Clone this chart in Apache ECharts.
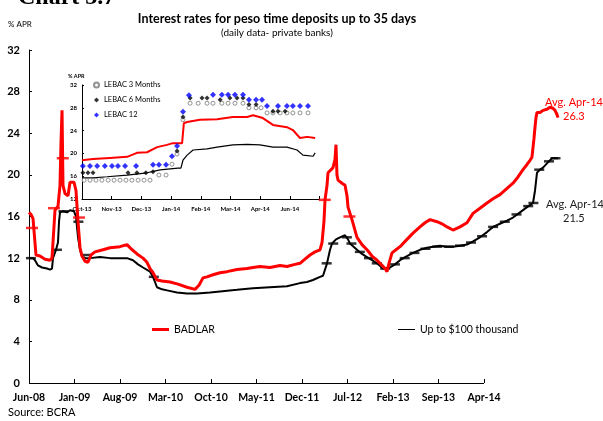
<!DOCTYPE html>
<html>
<head>
<meta charset="utf-8">
<script src="https://cdn.jsdelivr.net/npm/echarts@6/dist/echarts.min.js"></script>
<style>
  html, body { margin: 0; padding: 0; background: #fff; }
  #chart { width: 603px; height: 421px; }
</style>
</head>
<body>
<div id="chart"></div>
<script>
// x = months counted from Jun-08 on the axis scale (a labelled tick every 7)
const xLabels = ['Jun-08', 'Jan-09', 'Aug-09', 'Mar-10', 'Oct-10', 'May-11', 'Dec-11', 'Jul-12', 'Feb-13', 'Sep-13', 'Apr-14'];
const xTicks = [0, 7, 14, 21, 28, 35, 42, 49, 56, 63, 70];

const badlar = [
  [0, 16.4], [0.31, 16.2], [0.62, 15.8], [0.92, 13.5], [1.08, 12.3], [1.69, 12.2], [2.46, 11.9], [3.23, 11.8],
  [3.54, 12.0], [3.69, 13.5], [4.0, 16.6], [4.46, 17.0], [4.77, 19.0], [4.92, 23.0], [5.08, 26.2], [5.23, 19.0],
  [5.54, 18.2], [6.0, 18.0], [6.31, 19.3], [6.92, 19.3], [7.23, 18.5], [7.54, 15.5], [7.85, 13.0], [8.15, 12.2],
  [8.62, 11.7], [9.08, 11.6], [9.54, 12.3], [10.15, 12.6], [11.38, 12.8], [12.46, 13.0], [14.0, 13.1], [15.08, 13.3],
  [15.69, 12.9], [16.62, 12.4], [17.54, 12.0], [18.15, 11.6], [18.62, 11.0], [19.08, 10.6], [19.69, 9.9], [20.46, 9.8],
  [21.69, 9.7], [22.92, 9.5], [24.31, 9.2], [25.54, 9.0], [26.15, 9.4], [26.77, 10.1], [27.38, 10.2], [28.31, 10.4],
  [29.38, 10.6], [30.46, 10.7], [32.0, 10.9], [33.54, 11.0], [34.46, 11.1], [35.54, 11.2], [37.08, 11.1], [38.62, 11.3],
  [39.69, 11.2], [40.92, 11.4], [41.69, 11.5], [42.46, 11.9], [43.23, 12.3], [44.0, 12.6], [44.77, 12.8], [45.08, 13.5],
  [45.38, 15.5], [45.54, 17.6], [45.85, 19.0], [46.0, 20.2], [46.46, 20.5], [46.77, 20.7], [47.08, 21.5], [47.23, 22.9],
  [47.38, 20.0], [47.54, 19.5], [48.15, 19.2], [48.62, 19.0], [48.92, 18.0], [49.08, 16.9], [49.69, 15.7], [50.46, 14.0],
  [51.23, 13.3], [52.0, 12.8], [52.77, 12.2], [53.54, 11.8], [54.31, 11.3], [54.77, 11.0], [55.08, 10.7], [55.38, 11.5],
  [55.85, 12.5], [56.46, 12.8], [57.08, 13.1], [58.15, 13.8], [59.08, 14.4], [60.15, 15.0], [60.92, 15.4], [61.69, 15.7],
  [62.77, 15.5], [63.54, 15.3], [64.31, 15.0], [65.23, 14.7], [66.31, 15.0], [67.38, 15.4], [68.31, 16.3], [69.38, 16.8],
  [70.46, 17.3], [71.38, 17.7], [72.46, 18.1], [73.54, 18.7], [74.46, 19.2], [75.23, 19.8], [76.0, 20.5], [76.62, 21.0],
  [77.08, 21.4], [77.38, 21.7], [77.69, 23.5], [77.85, 24.6], [78.0, 25.5], [78.15, 26.0], [78.62, 26.0], [79.08, 26.2],
  [79.69, 26.3], [80.15, 26.5], [80.62, 26.4], [80.92, 26.2], [81.23, 25.8], [81.38, 25.5]
];

const upTo100 = [
  [0, 12.0], [0.15, 12.1], [0.62, 12.0], [0.92, 11.8], [1.38, 11.3], [2.0, 11.1], [2.77, 11.0], [3.23, 10.9],
  [3.54, 11.0], [3.69, 12.0], [4.15, 12.8], [4.46, 13.5], [4.62, 15.5], [4.77, 16.4], [5.23, 16.5], [5.85, 16.4],
  [6.31, 16.6], [6.92, 16.5], [7.23, 16.0], [7.54, 14.0], [7.85, 12.8], [8.15, 12.2], [8.62, 12.0], [9.38, 12.0],
  [10.92, 12.1], [12.46, 12.0], [14.0, 12.0], [15.08, 12.0], [16.0, 11.8], [16.77, 11.4], [17.54, 11.1], [18.62, 10.7],
  [19.08, 10.2], [19.69, 9.2], [20.46, 9.0], [21.23, 8.9], [22.77, 8.7], [24.31, 8.6], [25.85, 8.6], [27.85, 8.7],
  [29.38, 8.8], [32.0, 8.95], [34.46, 9.1], [37.08, 9.2], [39.69, 9.3], [41.69, 9.6], [42.77, 9.7], [43.69, 9.9],
  [44.77, 10.2], [45.23, 10.3], [45.85, 11.5], [46.31, 12.8], [46.62, 13.4], [47.23, 13.8], [47.85, 14.0], [48.62, 14.2],
  [49.08, 13.8], [49.38, 13.4], [50.46, 12.8], [51.23, 12.4], [52.0, 12.1], [52.77, 11.8], [53.54, 11.5], [54.46, 11.0],
  [55.54, 11.1], [56.31, 11.4], [57.08, 11.8], [58.15, 12.2], [59.08, 12.5], [60.15, 12.8], [61.23, 13.0], [62.15, 13.1],
  [63.23, 13.2], [64.31, 13.1], [65.23, 13.1], [66.31, 13.2], [67.38, 13.3], [68.31, 13.6], [69.38, 14.0], [70.46, 14.5],
  [71.38, 15.0], [72.46, 15.3], [73.54, 15.6], [74.46, 15.9], [75.54, 16.4], [76.62, 16.9], [77.54, 17.3], [77.85, 18.5],
  [78.15, 20.2], [78.62, 20.5], [79.08, 20.7], [79.69, 21.1], [80.46, 21.6], [80.92, 21.6], [81.38, 21.6]
];

// monthly average marks
const badlarAvg = [[0.46, 14.9], [3.85, 16.8], [5.2, 21.6], [7.7, 15.9], [45.5, 17.6], [49.3, 16.0]];
const upTo100Avg = [
  [0.3, 12.0], [4.3, 12.8], [5.3, 16.5], [7.6, 15.5], [8.9, 12.3], [19.2, 10.2], [45.8, 11.5], [46.8, 13.4],
  [48.9, 14.0], [49.6, 13.4], [50.9, 12.6], [52.3, 12.0], [53.5, 11.5], [54.8, 11.0], [56.3, 11.4], [57.8, 12.0],
  [59.3, 12.5], [61.0, 12.9], [62.8, 13.1], [64.6, 13.1], [66.3, 13.2], [68.0, 13.5], [69.7, 14.1], [71.4, 15.0],
  [73.2, 15.5], [75.0, 16.2], [76.8, 17.0], [77.6, 17.3], [78.5, 20.5], [80.0, 21.3], [81.0, 21.6]
];

// inset: x = months from Oct-13 on the inset scale
const insetLabels = ['Oct-13', 'Nov-13', 'Dec-13', 'Jan-14', 'Feb-14', 'Mar-14', 'Apr-14', 'Jun-14'];

const insetBadlar = [
  [0, 18.8], [0.37, 19.0], [0.94, 19.2], [1.52, 19.4], [1.85, 20.1], [2.19, 20.2], [2.53, 21.1], [2.86, 21.5],
  [3.06, 21.8], [3.37, 21.8], [3.43, 25.3], [3.54, 25.5], [3.97, 25.9], [4.55, 26.0], [5.08, 26.4], [5.56, 26.4],
  [5.76, 26.7], [6.09, 26.2], [6.43, 25.0], [6.9, 24.6], [7.1, 24.1], [7.34, 22.7], [7.58, 22.9], [7.85, 22.7]
];
const insetUpTo100 = [
  [0, 15.7], [0.37, 15.7], [0.84, 15.9], [1.52, 16.2], [2.19, 16.6], [2.63, 17.1], [3.23, 17.4], [3.33, 17.4],
  [3.4, 18.8], [3.54, 19.7], [3.74, 20.6], [4.21, 20.8], [4.55, 21.1], [5.08, 21.5], [5.56, 21.6], [5.99, 21.5],
  [6.43, 21.1], [6.9, 21.1], [7.24, 20.6], [7.44, 19.7], [7.78, 19.5], [7.85, 20.1]
];
const lebac3 = [
  [0.07, 15.3], [0.27, 15.3], [0.47, 15.3], [0.67, 15.3], [0.88, 15.3], [1.08, 15.3], [1.28, 15.3], [1.48, 15.3],
  [1.68, 15.3], [1.89, 15.3], [2.09, 15.3], [2.29, 15.3], [2.59, 16.2], [2.83, 16.2], [3.03, 18.1], [3.2, 19.9],
  [3.4, 25.9], [3.64, 28.8], [3.91, 28.8], [4.21, 28.8], [4.41, 28.8], [4.71, 28.8], [4.92, 28.8], [5.15, 28.8],
  [5.42, 28.8], [5.62, 28.0], [5.86, 28.0], [6.03, 28.0], [6.23, 27.1], [6.43, 27.1], [6.67, 27.1], [6.9, 27.1],
  [7.1, 27.1], [7.34, 27.1], [7.61, 27.1]
];
const lebac6 = [
  [0.03, 16.6], [0.2, 16.6], [0.37, 16.6], [1.55, 16.6], [1.85, 16.6], [2.15, 16.6], [2.39, 16.8], [3.2, 20.4],
  [3.4, 26.4], [3.64, 29.7], [4.04, 29.7], [4.21, 29.7], [4.65, 29.4], [4.98, 29.7], [5.22, 29.7], [5.42, 29.7],
  [5.62, 28.6], [5.86, 28.6], [6.43, 27.4], [6.6, 27.4], [6.84, 27.4]
];
const lebac12 = [
  [0.03, 17.8], [0.27, 17.8], [0.51, 17.8], [0.77, 17.8], [1.01, 17.8], [1.21, 17.8], [1.45, 17.8], [1.82, 17.8],
  [2.39, 18.0], [2.59, 18.0], [2.83, 18.0], [3.03, 19.5], [3.2, 21.3], [3.4, 27.3], [3.6, 30.2], [4.41, 30.3],
  [4.71, 30.3], [4.92, 30.3], [5.15, 30.3], [5.42, 30.3], [5.62, 29.4], [5.86, 29.4], [6.06, 29.4], [6.23, 28.3],
  [6.6, 28.3], [6.9, 28.3], [7.1, 28.3], [7.34, 28.3], [7.61, 28.3]
];

const font = 'Lato';
const chart = echarts.init(document.getElementById('chart'));

chart.setOption({
  animation: false,
  textStyle: { fontFamily: font, color: '#000' },
  title: {
    text: 'Interest rates for peso time deposits up to 35 days',
    subtext: '(daily data- private banks)',
    left: 272,
    top: 7,
    textAlign: 'center',
    itemGap: 3,
    textStyle: { fontFamily: font, fontSize: 12.5, fontWeight: 'bold', color: '#000' },
    subtextStyle: { fontFamily: font, fontSize: 10, color: '#000' }
  },
  legend: [{
    data: [{ name: 'BADLAR', icon: 'rect' }],
    left: 147, top: 319,
    itemWidth: 17, itemHeight: 3,
    selectedMode: false,
    textStyle: { fontFamily: font, fontSize: 10.5, color: '#000' }
  }, {
    data: [{ name: 'Up to $100 thousand', icon: 'rect' }],
    left: 393, top: 319,
    itemWidth: 17, itemHeight: 1,
    selectedMode: false,
    textStyle: { fontFamily: font, fontSize: 10.5, color: '#000' }
  }, {
    data: ['LEBAC 3 Months', 'LEBAC 6 Months', 'LEBAC 12'],
    orient: 'vertical',
    left: 93, top: 81, padding: 0,
    itemWidth: 5, itemHeight: 5, itemGap: 7,
    selectedMode: false,
    textStyle: { fontFamily: font, fontSize: 7.5, color: '#000' }
  }],
  grid: [
    { left: 29, top: 50, width: 552.5, height: 333 },
    { left: 82, top: 85, width: 237.6, height: 114 }
  ],
  xAxis: [{
    gridIndex: 0, type: 'value', min: 0, max: 85,
    axisLine: { show: false },
    axisTick: { show: true, inside: true, length: 4, customValues: xTicks, lineStyle: { color: '#000' } },
    axisLabel: {
      margin: 9, fontSize: 10.5, fontWeight: 'bold', color: '#000',
      customValues: xTicks,
      formatter: v => xLabels[Math.round(v / 7)] || ''
    },
    splitLine: { show: false }
  }, {
    gridIndex: 1, type: 'value', min: 0, max: 8, interval: 1,
    axisLine: { lineStyle: { color: '#000', width: 1 } },
    axisTick: { inside: true, length: 3, lineStyle: { color: '#000' } },
    axisLabel: {
      margin: 7, fontSize: 6, fontWeight: 'bold', color: '#000',
      formatter: v => insetLabels[v] || ''
    },
    splitLine: { show: false }
  }],
  yAxis: [{
    gridIndex: 0, type: 'value', min: 0, max: 32, interval: 4,
    axisLine: { show: true, lineStyle: { color: '#000', width: 1 } },
    axisTick: { show: true, inside: true, length: 3, lineStyle: { color: '#000' } },
    axisLabel: { margin: 9, fontSize: 11, fontWeight: 'bold', color: '#000' },
    splitLine: { show: false }
  }, {
    gridIndex: 1, type: 'value', min: 12, max: 32, interval: 4,
    axisLine: { show: true, lineStyle: { color: '#000', width: 1 } },
    axisTick: { show: true, inside: true, length: 2, lineStyle: { color: '#000' } },
    axisLabel: { margin: 5, fontSize: 6, fontWeight: 'bold', color: '#000' },
    splitLine: { show: false }
  }],
  series: [{
    name: 'Up to $100 thousand', type: 'line', data: upTo100,
    xAxisIndex: 0, yAxisIndex: 0, showSymbol: false, z: 2,
    itemStyle: { color: '#000' },
    lineStyle: { color: '#000', width: 2 },
    // x axis line, drawn only as far as the last dated tick
    markLine: {
      silent: true, symbol: ['none', 'none'], label: { show: false },
      lineStyle: { color: '#000', width: 1, type: 'solid' },
      data: [[{ coord: [0, 0] }, { coord: [xTicks[xTicks.length - 1], 0] }]]
    }
  }, {
    name: 'BADLAR', type: 'line', data: badlar,
    xAxisIndex: 0, yAxisIndex: 0, showSymbol: false, z: 3,
    itemStyle: { color: '#ff0000' },
    lineStyle: { color: '#ff0000', width: 3 }
  }, {
    name: 'avg100', type: 'scatter', data: upTo100Avg,
    xAxisIndex: 0, yAxisIndex: 0, z: 2,
    symbol: 'rect', symbolSize: [10, 2.5],
    itemStyle: { color: '#000' }
  }, {
    name: 'avgBadlar', type: 'scatter', data: badlarAvg,
    xAxisIndex: 0, yAxisIndex: 0, z: 3,
    symbol: 'rect', symbolSize: [12, 2.5],
    itemStyle: { color: '#ff0000' }
  }, {
    name: 'Up to $100 thousand', type: 'line', data: insetUpTo100,
    xAxisIndex: 1, yAxisIndex: 1, showSymbol: false, z: 4,
    lineStyle: { color: '#000', width: 1.2 }
  }, {
    name: 'BADLAR', type: 'line', data: insetBadlar,
    xAxisIndex: 1, yAxisIndex: 1, showSymbol: false, z: 4,
    lineStyle: { color: '#ff0000', width: 2 }
  }, {
    name: 'LEBAC 3 Months', type: 'scatter', data: lebac3,
    xAxisIndex: 1, yAxisIndex: 1, z: 5,
    symbol: 'circle', symbolSize: 4,
    itemStyle: { color: '#fff', borderColor: '#777', borderWidth: 1 }
  }, {
    name: 'LEBAC 6 Months', type: 'scatter', data: lebac6,
    xAxisIndex: 1, yAxisIndex: 1, z: 5,
    symbol: 'diamond', symbolSize: 5,
    itemStyle: { color: '#000' }
  }, {
    name: 'LEBAC 12', type: 'scatter', data: lebac12,
    xAxisIndex: 1, yAxisIndex: 1, z: 5,
    symbol: 'diamond', symbolSize: 6,
    itemStyle: { color: '#0000ff' }
  }],
  graphic: [
    { type: 'text', left: 18, top: -14, style: { text: 'Chart 3.7', font: 'bold 24px "Liberation Serif"', fill: '#000' } },
    { type: 'text', left: 8, top: 20, style: { text: '% APR', font: '8px Lato', fill: '#000' } },
    { type: 'text', left: 68, top: 73, style: { text: '% APR', font: 'bold 5.5px Lato', fill: '#000' } },
    { type: 'text', left: 8, top: 407, style: { text: 'Source: BCRA', font: '11px Lato', fill: '#000' } },
    { type: 'text', left: 545, top: 97, style: { text: 'Avg. Apr-14', font: '11px Lato', fill: '#ff0000' } },
    { type: 'text', left: 563, top: 111, style: { text: '26.3', font: '11px Lato', fill: '#ff0000' } },
    { type: 'text', left: 546, top: 199, style: { text: 'Avg. Apr-14', font: '11px Lato', fill: '#222' } },
    { type: 'text', left: 563, top: 213, style: { text: '21.5', font: '11px Lato', fill: '#222' } }
  ]
});
</script>
</body>
</html>
